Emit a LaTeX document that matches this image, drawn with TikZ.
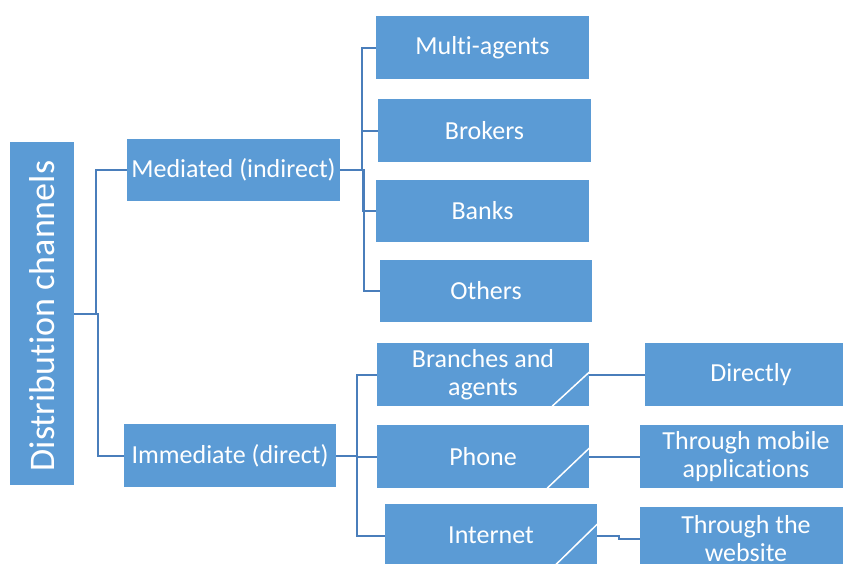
\documentclass[tikz,border=0pt]{standalone}
\usepackage{fontspec}
\setmainfont{Carlito}[Ligatures=NoCommon]
\usetikzlibrary{calc}
\definecolor{boxblue}{HTML}{5B9BD5}
\definecolor{linkblue}{HTML}{4A7EBB}
\begin{document}
\begin{tikzpicture}[x=1pt,y=-1pt,
  box/.style={fill=boxblue, text=white, inner sep=0pt, align=center,
    font=\fontsize{26}{28.5}\selectfont},
  link/.style={draw=linkblue, line width=2pt},
  cut/.style={draw=white, line width=1.5pt}]
\clip (0,0) rectangle (843,563);
\fill[white] (0,0) rectangle (843,563);

% root and the two channel types
\node[box, minimum width=64pt, minimum height=343pt] (root) at (42,313.5) {};
\node[text=white, rotate=90, font=\fontsize{36}{40}\selectfont] (rootlbl) at (42,316) {Distribution channels};
\node[box, minimum width=213pt, minimum height=62pt] (med) at (233.5,170) {Mediated (indirect)};
\node[box, minimum width=212pt, minimum height=63pt] (imm) at (230,455.5) {Immediate (direct)};

% mediated channels
\node[box, minimum width=213pt, minimum height=63pt] (ma) at (482.5,47.5) {Multi-agents};
\node[box, minimum width=213pt, minimum height=63pt] (br) at (484.5,130.5) {Brokers};
\node[box, minimum width=213pt, minimum height=62pt] (bk) at (482.5,211) {Banks};
\node[box, minimum width=212pt, minimum height=62pt] (ot) at (486,291) {Others};

% direct channels
\node[box, minimum width=212pt, minimum height=63pt] (ba) at (483,374.5) {Branches and\\agents};
\node[box, minimum width=212pt, minimum height=63pt] (ph) at (483,456.5) {Phone};
\node[box, minimum width=212pt, minimum height=63pt] (in) at (491,535.5) {Internet};

% ways of reaching the customer
\node[box, minimum width=212pt, minimum height=63pt] (di) at (751,374.5) {Directly};
\node[box, minimum width=212pt, minimum height=63pt] (mo) at (746,456.5) {Through mobile\\applications};
\node[box, minimum width=212pt, minimum height=63pt] (we) at (746,538.5) {Through the\\website};

% corner strokes on the direct channels
\draw[cut] ([xshift=-37pt]ba.south east) -- ([yshift=34pt]ba.south east);
\draw[cut] ([xshift=-42pt]ph.south east) -- ([yshift=40pt]ph.south east);
\draw[cut] ([xshift=-44pt]in.south east) -- ([yshift=43pt]in.south east);

% connectors
\draw[link] (root.east) -- ++(22,0) |- (med.west);
\draw[link] (root.east) -- ++(24,0) |- (imm.west);

\draw[link] (med.east) -- ++(22,0) |- (ma.west);
\draw[link] (med.east) -- ++(22,0) |- (br.west);
\draw[link] (med.east) -- ++(23,0) |- (bk.west);
\draw[link] (med.east) -- ++(24,0) |- (ot.west);

\draw[link] (imm.east) -- ++(21,0) |- (ba.west);
\draw[link] (imm.east) -- ++(21,0) |- (ph.west);
\draw[link] (imm.east) -- ++(21,0) |- (in.west);

\draw[link] (ba.east) -- (di.west);
\draw[link] (ph.east) -- (mo.west);
\draw[link] (in.east) -- ++(22,0) |- (we.west);
\end{tikzpicture}
\end{document}
